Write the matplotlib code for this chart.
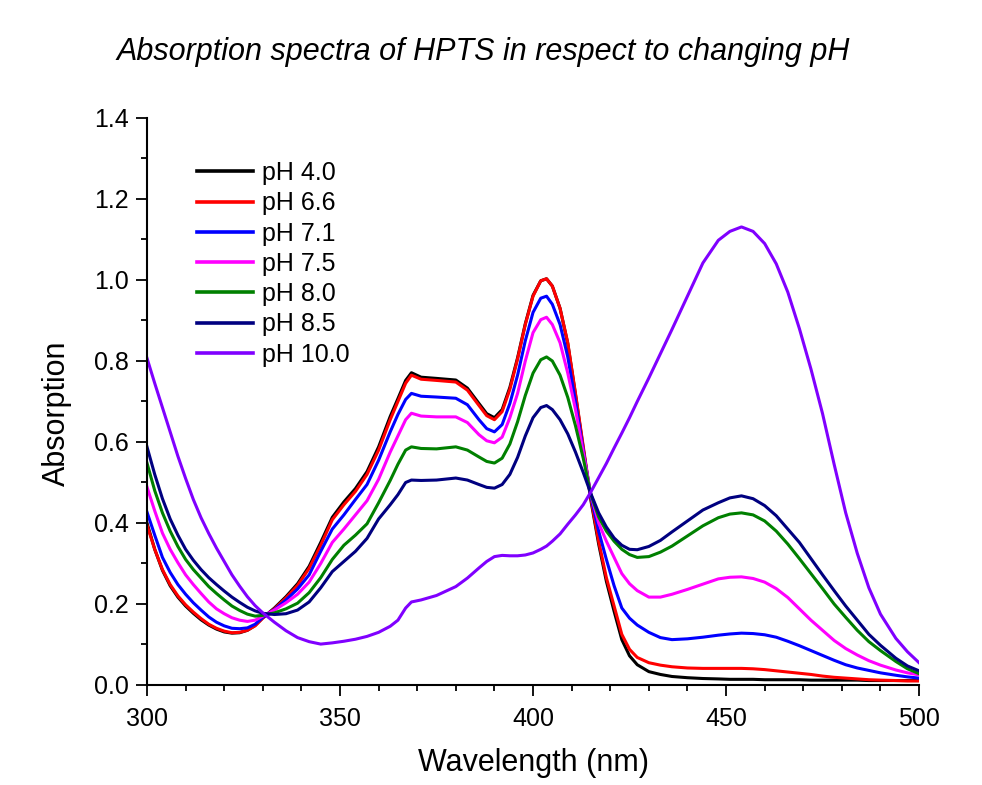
import matplotlib
matplotlib.use("Agg")
import matplotlib.pyplot as plt
from matplotlib.ticker import MultipleLocator, FormatStrFormatter

plt.rcParams['font.family'] = ['Liberation Sans', 'DejaVu Sans']

wavelength = [300, 302, 304, 306, 308, 310, 312, 314, 316, 318,
              320, 322, 324, 326, 328, 330, 333, 336, 339, 342,
              345, 348, 351, 354, 357, 360, 363, 365, 367, 368.5,
              371, 375, 380, 383, 386, 388, 390, 392, 394, 396,
              398, 400, 402, 403.5, 405, 407, 409, 411, 413, 415,
              417, 419, 421, 423, 425, 427, 430, 433, 436, 440,
              444, 448, 451, 454, 457, 460, 463, 466, 469, 472,
              475, 478, 481, 484, 487, 490, 494, 497, 500]

ph_4_0 = [0.400, 0.335, 0.283, 0.245, 0.217, 0.195, 0.177, 0.161, 0.148, 0.138,
          0.131, 0.128, 0.129, 0.135, 0.147, 0.166, 0.190, 0.218, 0.250, 0.293,
          0.352, 0.414, 0.452, 0.485, 0.527, 0.588, 0.663, 0.707, 0.752, 0.771,
          0.760, 0.757, 0.753, 0.733, 0.695, 0.670, 0.660, 0.680, 0.735, 0.808,
          0.892, 0.962, 0.998, 1.003, 0.985, 0.930, 0.843, 0.717, 0.585, 0.455,
          0.348, 0.256, 0.182, 0.112, 0.072, 0.050, 0.033, 0.026, 0.021, 0.018,
          0.016, 0.015, 0.014, 0.014, 0.014, 0.013, 0.013, 0.013, 0.013, 0.012,
          0.012, 0.012, 0.012, 0.012, 0.011, 0.011, 0.011, 0.011, 0.011]
ph_6_6 = [0.395, 0.335, 0.285, 0.248, 0.220, 0.198, 0.180, 0.164, 0.150, 0.140,
          0.133, 0.129, 0.130, 0.135, 0.146, 0.165, 0.188, 0.215, 0.246, 0.288,
          0.345, 0.408, 0.445, 0.478, 0.520, 0.580, 0.655, 0.700, 0.745, 0.765,
          0.755, 0.752, 0.748, 0.728, 0.690, 0.665, 0.655, 0.675, 0.730, 0.805,
          0.890, 0.960, 0.998, 1.003, 0.985, 0.930, 0.845, 0.720, 0.590, 0.460,
          0.355, 0.265, 0.195, 0.125, 0.088, 0.068, 0.055, 0.049, 0.045, 0.042,
          0.041, 0.041, 0.041, 0.041, 0.040, 0.038, 0.035, 0.032, 0.029, 0.026,
          0.022, 0.019, 0.017, 0.015, 0.013, 0.012, 0.011, 0.010, 0.010]
ph_7_1 = [0.427, 0.370, 0.315, 0.278, 0.248, 0.224, 0.203, 0.185, 0.168, 0.155,
          0.146, 0.140, 0.139, 0.141, 0.150, 0.167, 0.186, 0.210, 0.237, 0.272,
          0.330, 0.385, 0.420, 0.458, 0.495, 0.555, 0.625, 0.668, 0.705, 0.720,
          0.713, 0.711, 0.708, 0.692, 0.655, 0.633, 0.625, 0.643, 0.695, 0.765,
          0.850, 0.920, 0.955, 0.960, 0.940, 0.890, 0.810, 0.700, 0.580, 0.465,
          0.380, 0.310, 0.245, 0.190, 0.165, 0.148, 0.130, 0.117, 0.112, 0.114,
          0.118, 0.123, 0.126, 0.128, 0.127, 0.124, 0.118, 0.108, 0.097, 0.085,
          0.073, 0.061, 0.050, 0.042, 0.036, 0.030, 0.024, 0.020, 0.017]
ph_7_5 = [0.489, 0.430, 0.375, 0.335, 0.302, 0.272, 0.248, 0.226, 0.205, 0.188,
          0.176, 0.166, 0.160, 0.157, 0.160, 0.170, 0.185, 0.203, 0.224, 0.254,
          0.300, 0.352, 0.385, 0.420, 0.455, 0.508, 0.575, 0.615, 0.655, 0.671,
          0.664, 0.662, 0.662, 0.648, 0.618, 0.603, 0.598, 0.612, 0.660, 0.720,
          0.800, 0.870, 0.902, 0.908, 0.890, 0.845, 0.770, 0.680, 0.575, 0.470,
          0.400, 0.355, 0.315, 0.275, 0.250, 0.233, 0.217, 0.217, 0.224, 0.236,
          0.249, 0.262, 0.266, 0.267, 0.263, 0.254, 0.238, 0.216, 0.188, 0.160,
          0.135, 0.110, 0.090, 0.074, 0.060, 0.049, 0.037, 0.030, 0.025]
ph_8_0 = [0.548, 0.480, 0.425, 0.380, 0.342, 0.310, 0.285, 0.264, 0.243, 0.226,
          0.210, 0.195, 0.184, 0.175, 0.170, 0.172, 0.178, 0.188, 0.202, 0.228,
          0.265, 0.310, 0.345, 0.370, 0.398, 0.450, 0.505, 0.545, 0.580, 0.588,
          0.584, 0.583, 0.588, 0.580, 0.563, 0.552, 0.548, 0.560, 0.595, 0.650,
          0.715, 0.770, 0.803, 0.810, 0.800, 0.765, 0.710, 0.640, 0.560, 0.470,
          0.415, 0.380, 0.355, 0.335, 0.322, 0.315, 0.317, 0.328, 0.343, 0.368,
          0.393, 0.413, 0.422, 0.425, 0.420, 0.405, 0.380, 0.348, 0.312, 0.275,
          0.238, 0.200, 0.167, 0.135, 0.107, 0.085, 0.058, 0.040, 0.028]
ph_8_5 = [0.588, 0.520, 0.460, 0.410, 0.370, 0.335, 0.308, 0.285, 0.265, 0.248,
          0.232, 0.217, 0.204, 0.192, 0.183, 0.177, 0.174, 0.176, 0.185, 0.205,
          0.240, 0.280, 0.305, 0.330, 0.362, 0.410, 0.445, 0.470, 0.500, 0.506,
          0.505, 0.506, 0.511, 0.506, 0.495, 0.488, 0.486, 0.495, 0.520, 0.562,
          0.615, 0.660, 0.685, 0.690, 0.680, 0.655, 0.620, 0.575, 0.525, 0.472,
          0.425, 0.390, 0.363, 0.345, 0.335, 0.334, 0.342, 0.357, 0.378, 0.405,
          0.432, 0.450, 0.462, 0.467, 0.460, 0.443, 0.418, 0.385, 0.352, 0.312,
          0.272, 0.233, 0.195, 0.160, 0.125, 0.098, 0.066, 0.047, 0.035]
ph_10_0 = [0.807, 0.745, 0.685, 0.625, 0.565, 0.510, 0.458, 0.413, 0.374, 0.338,
           0.305, 0.272, 0.244, 0.218, 0.196, 0.178, 0.155, 0.134, 0.117, 0.107,
           0.101, 0.104, 0.108, 0.113, 0.120, 0.130, 0.145, 0.160, 0.190, 0.205,
           0.210, 0.221, 0.243, 0.264, 0.289, 0.305, 0.317, 0.320, 0.319, 0.319,
           0.321, 0.326, 0.335, 0.343, 0.355, 0.373, 0.397, 0.420, 0.445, 0.477,
           0.512, 0.547, 0.585, 0.622, 0.660, 0.700, 0.758, 0.818, 0.878, 0.960,
           1.042, 1.098, 1.120, 1.131, 1.120, 1.090, 1.040, 0.970, 0.880, 0.780,
           0.670, 0.545, 0.425, 0.325, 0.240, 0.175, 0.115, 0.082, 0.055]

labels = ['pH 4.0', 'pH 6.6', 'pH 7.1', 'pH 7.5', 'pH 8.0', 'pH 8.5', 'pH 10.0']
colors = ['#000000', '#ff0000', '#0000ff', '#ff00ff', '#008000', '#000080', '#8000ff']
series = [ph_4_0, ph_6_6, ph_7_1, ph_7_5, ph_8_0, ph_8_5, ph_10_0]

fig = plt.figure(figsize=(9.82, 7.85), dpi=100)
ax = fig.add_axes([0.1497, 0.1274, 0.7862, 0.7223])

for y, lab, c in zip(series, labels, colors):
    ax.plot(wavelength, y, color=c, lw=2.2, label=lab, solid_joinstyle='round')

ax.set_xlim(300, 500)
ax.set_ylim(0, 1.4)
ax.xaxis.set_major_locator(MultipleLocator(50))
ax.xaxis.set_minor_locator(MultipleLocator(10))
ax.yaxis.set_major_locator(MultipleLocator(0.2))
ax.yaxis.set_minor_locator(MultipleLocator(0.1))
ax.yaxis.set_major_formatter(FormatStrFormatter('%.1f'))

for s in ['top', 'right']:
    ax.spines[s].set_visible(False)
for s in ['left', 'bottom']:
    ax.spines[s].set_linewidth(1.5)

ax.tick_params(which='major', direction='out', length=8, width=1.3, labelsize=18)
ax.tick_params(axis='x', which='major', pad=8)
ax.tick_params(axis='y', which='major', pad=5)
ax.tick_params(which='minor', direction='out', length=4, width=1.3)

leg = ax.legend(loc='upper left', bbox_to_anchor=(0.0648, 0.924), frameon=False,
                fontsize=18, borderpad=0, borderaxespad=0, handlelength=2.25,
                handletextpad=0.35, labelspacing=0.25)
for line in leg.get_lines():
    line.set_linewidth(2.6)

fig.text(0.492, 0.934, 'Absorption spectra of HPTS in respect to changing pH',
         fontsize=22, style='italic', ha='center', va='center')
fig.text(0.543, 0.028, 'Wavelength (nm)', fontsize=22, ha='center', va='center')
fig.text(0.058, 0.474, 'Absorption', fontsize=22, rotation=90, ha='center', va='center')

fig.savefig('out.png', dpi=100)
